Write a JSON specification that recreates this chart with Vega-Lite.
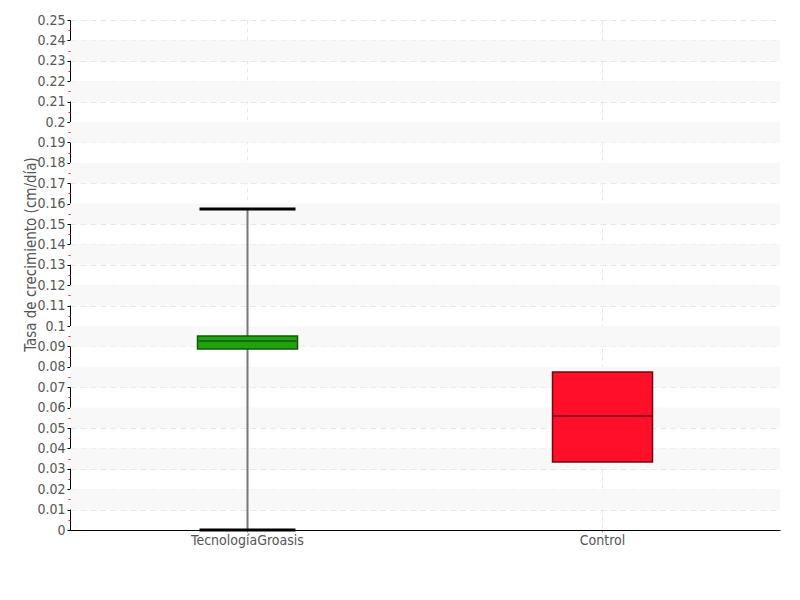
{
  "$schema": "https://vega.github.io/schema/vega-lite/v6.json",
  "width": 710,
  "height": 510,
  "autosize": {"type": "none"},
  "padding": {"left": 70, "top": 20, "right": 20, "bottom": 70},
  "background": "white",
  "config": {
    "view": {"stroke": null},
    "font": "DejaVu Sans Condensed, Roboto, sans-serif",
    "axis": {"labelFont": "DejaVu Sans Condensed, Roboto, sans-serif", "titleFont": "DejaVu Sans Condensed, Roboto, sans-serif", "labelColor": "#555555", "titleColor": "#555555", "titleFontWeight": "normal"}
  },
  "datasets": {
    "bands": [
      {"lo": 0.01, "hi": 0.02}, {"lo": 0.03, "hi": 0.04}, {"lo": 0.05, "hi": 0.06},
      {"lo": 0.07, "hi": 0.08}, {"lo": 0.09, "hi": 0.1}, {"lo": 0.11, "hi": 0.12},
      {"lo": 0.13, "hi": 0.14}, {"lo": 0.15, "hi": 0.16}, {"lo": 0.17, "hi": 0.18},
      {"lo": 0.19, "hi": 0.2}, {"lo": 0.21, "hi": 0.22}, {"lo": 0.23, "hi": 0.24}
    ],
    "boxes": [
      {"grupo": "TecnologíaGroasis", "q1": 0.0887, "mediana": 0.0926, "q3": 0.0951, "relleno": "#21a20f", "borde": "#105a06"},
      {"grupo": "Control", "q1": 0.0333, "mediana": 0.0559, "q3": 0.0775, "relleno": "#ff0f2a", "borde": "#6e0a10"}
    ],
    "whiskers": [
      {"grupo": "TecnologíaGroasis", "min": 0.0, "max": 0.1574}
    ],
    "caps": [
      {"grupo": "TecnologíaGroasis", "valor": 0.0},
      {"grupo": "TecnologíaGroasis", "valor": 0.1574}
    ]
  },
  "resolve": {"axis": {"y": "independent"}},
  "layer": [
    {
      "data": {"name": "bands"},
      "mark": {"type": "rect", "color": "#f8f8f8"},
      "encoding": {
        "y": {"field": "lo", "type": "quantitative", "scale": {"domain": [0, 0.25], "nice": false},
          "axis": {"orient": "left", "values": [0.005,0.015,0.025,0.035,0.045,0.055,0.065,0.075,0.085,0.095,0.105,0.115,0.125,0.135,0.145,0.155,0.165,0.175,0.185,0.195,0.205,0.215,0.225,0.235,0.245],
            "labels": false, "domain": false, "grid": false, "tickColor": "#ff2020", "tickWidth": 1, "tickSize": 2, "title": null, "zindex": 2}},
        "y2": {"field": "hi"}
      }
    },
    {
      "data": {"name": "boxes"},
      "mark": {"type": "point", "opacity": 0},
      "encoding": {
        "x": {"field": "grupo", "type": "nominal", "sort": ["TecnologíaGroasis", "Control"],
          "scale": {"type": "band", "paddingInner": 0, "paddingOuter": 0},
          "axis": {"title": null, "labelAngle": 0, "labelFontSize": 14, "domainColor": "#000000", "tickColor": "#999999", "tickSize": 2, "labelPadding": 1,
            "grid": true, "gridDash": [4, 4], "gridColor": "#e6e6e6", "bandPosition": 0.5}},
        "y": {"field": "mediana", "type": "quantitative",
          "axis": {"orient": "left", "values": [0,0.01,0.02,0.03,0.04,0.05,0.06,0.07,0.08,0.09,0.1,0.11,0.12,0.13,0.14,0.15,0.16,0.17,0.18,0.19,0.2,0.21,0.22,0.23,0.24,0.25],
            "format": "~g", "labelFontSize": 14, "domainColor": "#000000", "tickColor": "#000000", "tickSize": 3, "labelPadding": 2,
            "grid": true, "gridDash": [6, 4], "gridColor": "#e6e6e6",
            "title": "Tasa de crecimiento (cm/día)", "titleFontSize": 15, "titleX": -32, "titleY": 234}}
      }
    },
    {
      "data": {"name": "whiskers"},
      "mark": {"type": "rule", "color": "#777777", "strokeWidth": 2},
      "encoding": {
        "x": {"field": "grupo", "type": "nominal", "sort": ["TecnologíaGroasis", "Control"]},
        "y": {"field": "min", "type": "quantitative", "axis": null},
        "y2": {"field": "max"}
      }
    },
    {
      "data": {"name": "caps"},
      "mark": {"type": "tick", "color": "#000000", "size": 96, "thickness": 3, "opacity": 1},
      "encoding": {
        "x": {"field": "grupo", "type": "nominal", "sort": ["TecnologíaGroasis", "Control"]},
        "y": {"field": "valor", "type": "quantitative", "axis": null}
      }
    },
    {
      "data": {"name": "boxes"},
      "mark": {"type": "bar", "size": 100, "strokeWidth": 1.5},
      "encoding": {
        "x": {"field": "grupo", "type": "nominal", "sort": ["TecnologíaGroasis", "Control"]},
        "y": {"field": "q1", "type": "quantitative", "axis": null},
        "y2": {"field": "q3"},
        "fill": {"field": "relleno", "type": "nominal", "scale": null},
        "stroke": {"field": "borde", "type": "nominal", "scale": null}
      }
    },
    {
      "data": {"name": "boxes"},
      "mark": {"type": "tick", "size": 98, "thickness": 1.5, "opacity": 1},
      "encoding": {
        "x": {"field": "grupo", "type": "nominal", "sort": ["TecnologíaGroasis", "Control"]},
        "y": {"field": "mediana", "type": "quantitative", "axis": null},
        "color": {"field": "borde", "type": "nominal", "scale": null}
      }
    }
  ]
}
